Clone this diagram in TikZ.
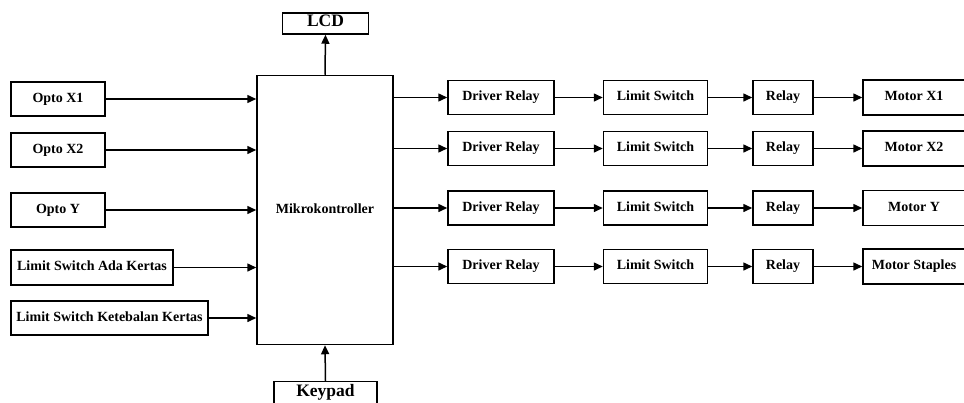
\documentclass[tikz,border=0pt]{standalone}
\usepackage{fontspec}
\setmainfont{Liberation Serif}
\usetikzlibrary{arrows.meta}
\begin{document}
\begin{tikzpicture}[x=1pt,y=-1pt,
  blk/.style={draw,line width=1.5pt,inner sep=0pt,text height=1.5ex,text depth=0ex,font=\fontsize{14}{16}\selectfont\bfseries},
  big/.style={blk,font=\fontsize{17.5}{19}\selectfont\bfseries},
  lbl/.style={text height=1.5ex,text depth=0ex,inner sep=0pt,font=\fontsize{14}{16}\selectfont\bfseries},
  arr/.style={line width=1.5pt,-{Triangle[length=9pt,width=8pt]}}]
\useasboundingbox (0,0) rectangle (964,402);
% central block
\node[blk,minimum width=136pt,minimum height=269pt] (mk) at (325,210) {Mikrokontroller};
\node[big,minimum width=86pt,minimum height=21pt] (lcd) at (325.5,23.5) {LCD};
\node[big,minimum width=103pt,minimum height=24pt] (kp) at (325.5,393.5) {Keypad};
% left inputs
\node[blk,minimum width=94pt,minimum height=34pt] (o1) at (58,99) {Opto X1};
\node[blk,minimum width=94pt,minimum height=34pt] (o2) at (58,150) {Opto X2};
\node[blk,minimum width=94pt,minimum height=34pt] (oy) at (58,210) {Opto Y};
\node[blk,minimum width=162pt,minimum height=35pt] (la) at (92,267.5) {Limit Switch Ada Kertas};
\node[blk,minimum width=197pt,minimum height=34pt] (lk) at (109.5,318) {Limit Switch Ketebalan Kertas};
% right chains
\foreach \i/\y/\m in {1/97.5/Motor X1,2/148.5/Motor X2,3/208/Motor Y,4/266.5/Motor Staples}{
  \node[blk,minimum width=106pt,minimum height=34pt] (dr\i) at (501,\y) {Driver Relay};
  \node[blk,minimum width=104pt,minimum height=34pt] (ls\i) at (655.5,\y) {Limit Switch};
  \node[blk,minimum width=60pt,minimum height=34pt] (re\i) at (783,\y) {Relay};
  \node[blk,minimum width=106pt,minimum height=35pt] (mo\i) at (916,\y) {};
  \node[lbl] (mt\i) at (914,\y) {\m};
  \draw[arr] (mk.east |- dr\i.west) -- (dr\i.west);
  \draw[arr] (dr\i) -- (ls\i);
  \draw[arr] (ls\i) -- (re\i);
  \draw[arr] (re\i) -- (mo\i);
}
% left arrows
\foreach \n in {o1,o2,oy,la,lk}{
  \draw[arr] (\n.east) -- (mk.west |- \n.east);
}
\draw[arr] (mk.north) -- (lcd.south);
\draw[arr] (kp.north) -- (mk.south);
\end{tikzpicture}
\end{document}
